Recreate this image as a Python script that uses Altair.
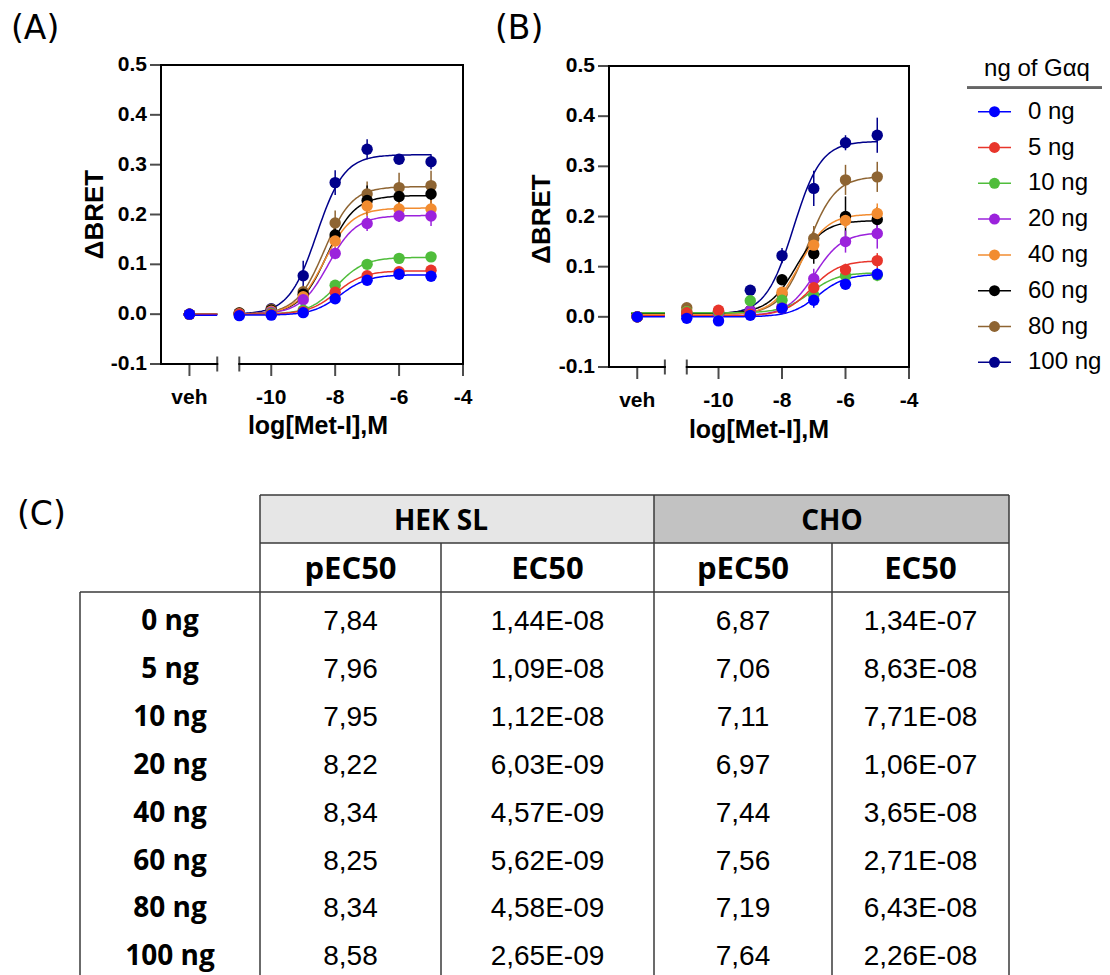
import altair as alt
import numpy as np
import pandas as pd

# ---------------------------------------------------------------- data
SERIES = ["0 ng", "5 ng", "10 ng", "20 ng", "40 ng", "60 ng", "80 ng", "100 ng"]
COLORS = ["#0000FF", "#E8352B", "#4FBD3B", "#9B22DC", "#F28C30", "#000000", "#8E6432", "#00008B"]
LOG_CONC = [-11, -10, -9, -8, -7, -6, -5]
X_TICK_LABELS = ["veh", "-10", "-8", "-6", "-4"]
X_TICK_VALUES = [-10, -8, -6, -4]
Y_TICKS = [-0.1, 0.0, 0.1, 0.2, 0.3, 0.4, 0.5]

# panel A (HEK SL): mean dBRET per log[Met-I]
HEK_MEAN = [
    [-0.003, -0.002, 0.003, 0.031, 0.068, 0.080, 0.076],
    [0.000, 0.000, 0.005, 0.044, 0.077, 0.085, 0.088],
    [0.000, 0.002, 0.008, 0.058, 0.100, 0.112, 0.115],
    [0.000, 0.004, 0.029, 0.122, 0.182, 0.197, 0.197],
    [0.001, 0.006, 0.035, 0.147, 0.217, 0.211, 0.211],
    [0.002, 0.008, 0.040, 0.159, 0.228, 0.236, 0.241],
    [0.003, 0.010, 0.045, 0.183, 0.241, 0.254, 0.258],
    [0.002, 0.011, 0.077, 0.264, 0.331, 0.311, 0.306],
]
HEK_ERR = [
    [0.002, 0.002, 0.003, 0.006, 0.006, 0.006, 0.008],
    [0.002, 0.002, 0.003, 0.006, 0.006, 0.006, 0.008],
    [0.002, 0.002, 0.004, 0.006, 0.008, 0.008, 0.008],
    [0.002, 0.003, 0.006, 0.012, 0.015, 0.012, 0.020],
    [0.002, 0.003, 0.008, 0.015, 0.020, 0.015, 0.018],
    [0.002, 0.004, 0.010, 0.020, 0.030, 0.020, 0.020],
    [0.003, 0.004, 0.012, 0.025, 0.025, 0.030, 0.030],
    [0.003, 0.005, 0.030, 0.025, 0.020, 0.008, 0.015],
]
HEK_VEH = [0.0, 0.0, 0.0, 0.0, 0.0, 0.0, 0.0, 0.0]
HEK_BOTTOM = [-0.002, 0.0, 0.0, 0.0, 0.0, 0.0, 0.0, 0.0]
HEK_TOP = [0.079, 0.087, 0.114, 0.198, 0.213, 0.238, 0.256, 0.320]

# panel B (CHO)
CHO_MEAN = [
    [-0.003, -0.008, 0.003, 0.017, 0.033, 0.065, 0.085],
    [0.008, 0.013, 0.005, 0.017, 0.058, 0.094, 0.112],
    [0.010, 0.010, 0.032, 0.033, 0.043, 0.082, 0.083],
    [0.005, 0.005, 0.012, 0.020, 0.076, 0.150, 0.166],
    [0.010, 0.008, 0.010, 0.049, 0.143, 0.192, 0.206],
    [0.005, 0.006, 0.012, 0.074, 0.126, 0.200, 0.194],
    [0.018, 0.010, 0.012, 0.045, 0.156, 0.273, 0.279],
    [0.005, 0.010, 0.053, 0.122, 0.256, 0.347, 0.362],
]
CHO_ERR = [
    [0.003, 0.003, 0.004, 0.008, 0.015, 0.010, 0.012],
    [0.003, 0.003, 0.004, 0.006, 0.012, 0.012, 0.015],
    [0.003, 0.003, 0.005, 0.008, 0.008, 0.010, 0.012],
    [0.003, 0.003, 0.004, 0.006, 0.020, 0.022, 0.030],
    [0.003, 0.003, 0.004, 0.010, 0.020, 0.015, 0.020],
    [0.003, 0.003, 0.004, 0.010, 0.020, 0.040, 0.025],
    [0.003, 0.003, 0.004, 0.010, 0.025, 0.030, 0.030],
    [0.003, 0.004, 0.006, 0.015, 0.035, 0.015, 0.035],
]
CHO_VEH = [0.0, 0.0, 0.0, 0.0, 0.0, 0.0, 0.0, 0.0]
CHO_BOTTOM = [0.0, 0.002, 0.008, 0.002, 0.004, 0.007, 0.005, 0.005]
CHO_TOP = [0.085, 0.112, 0.088, 0.168, 0.205, 0.192, 0.280, 0.350]

# table (C)
HEK_PEC50 = ["7,84", "7,96", "7,95", "8,22", "8,34", "8,25", "8,34", "8,58"]
HEK_EC50 = ["1,44E-08", "1,09E-08", "1,12E-08", "6,03E-09", "4,57E-09", "5,62E-09", "4,58E-09", "2,65E-09"]
CHO_PEC50 = ["6,87", "7,06", "7,11", "6,97", "7,44", "7,56", "7,19", "7,64"]
CHO_EC50 = ["1,34E-07", "8,63E-08", "7,71E-08", "1,06E-07", "3,65E-08", "2,71E-08", "6,43E-08", "2,26E-08"]
GROUPS = ["HEK SL", "CHO"]
SUBCOLS = ["pEC50", "EC50", "pEC50", "EC50"]
LEGEND_TITLE = "ng of Gαq"
HILL = 1.0

# ---------------------------------------------------------------- layout
W, H = 1094, 967
X_DOM = [-13.45, -4.0]
Y_DOM = [-0.1, 0.5]
VEH_X = -12.56
BREAK_L, BREAK_R = -11.69, -11.0
VEH_LINE = [-12.75, -11.69]
PANELS = {"A": {"xr": [153, 455], "yr": [356, 57]},
          "B": {"xr": [601, 901], "yr": [359, 58]}}
AX_FONT = "Liberation Sans"


def xsc(p):
    return alt.Scale(domain=X_DOM, range=PANELS[p]["xr"], nice=False, zero=False)


def ysc(p):
    return alt.Scale(domain=Y_DOM, range=PANELS[p]["yr"], nice=False, zero=False)


def XQ(field, p):
    return alt.X(field, type="quantitative", scale=xsc(p), axis=None)


def YQ(field, p):
    return alt.Y(field, type="quantitative", scale=ysc(p), axis=None)


CSCALE = alt.Scale(domain=SERIES, range=COLORS)
COLOR = alt.Color("series:N", scale=CSCALE, legend=None)


def to_num(s):
    return float(s.replace(",", "."))


def panel_layers(p, mean, err, veh, bottom, top, pec50):
    layers = []
    # frame and broken x axis
    frame = pd.DataFrame({
        "x": [X_DOM[0], X_DOM[0], X_DOM[1], X_DOM[0], BREAK_R],
        "x2": [X_DOM[0], X_DOM[1], X_DOM[1], BREAK_L, X_DOM[1]],
        "y": [Y_DOM[0], Y_DOM[1], Y_DOM[0], Y_DOM[0], Y_DOM[0]],
        "y2": [Y_DOM[1], Y_DOM[1], Y_DOM[1], Y_DOM[0], Y_DOM[0]],
    })
    layers.append(alt.Chart(frame).mark_rule(color="black", strokeWidth=2, strokeCap="square").encode(
        x=XQ("x", p), x2=alt.X2("x2"), y=YQ("y", p), y2=alt.Y2("y2")))
    xt = pd.DataFrame({"x": [VEH_X] + X_TICK_VALUES, "label": X_TICK_LABELS, "y": Y_DOM[0]})
    layers.append(alt.Chart(xt).mark_tick(orient="vertical", size=12, thickness=2, color="black", yOffset=6).encode(
        x=XQ("x", p), y=YQ("y", p)))
    layers.append(alt.Chart(xt).mark_text(font=AX_FONT, fontWeight="bold", fontSize=21, align="center",
                                          baseline="alphabetic", dy=40, color="black").encode(
        x=XQ("x", p), y=YQ("y", p), text="label:N"))
    br = pd.DataFrame({"x": [BREAK_L, BREAK_R], "y": Y_DOM[0]})
    layers.append(alt.Chart(br).mark_tick(orient="vertical", size=15, thickness=2, color="black").encode(
        x=XQ("x", p), y=YQ("y", p)))
    yt = pd.DataFrame({"y": Y_TICKS, "x": X_DOM[0], "label": [f"{v:.1f}" for v in Y_TICKS]})
    layers.append(alt.Chart(yt).mark_tick(orient="horizontal", size=11, thickness=2, color="black", xOffset=-5.5).encode(
        x=XQ("x", p), y=YQ("y", p)))
    layers.append(alt.Chart(yt).mark_text(font=AX_FONT, fontWeight="bold", fontSize=21, align="right",
                                          baseline="middle", dx=-14, color="black").encode(
        x=XQ("x", p), y=YQ("y", p), text="label:N"))

    order = list(reversed(range(len(SERIES))))  # 100 ng drawn first, 0 ng on top
    # fitted 4-parameter logistic curves (plateaus, pEC50 from table)
    xs = np.linspace(LOG_CONC[0], LOG_CONC[-1], 121)
    cur = []
    for k in order:
        yy = bottom[k] + (top[k] - bottom[k]) / (1 + 10 ** ((-pec50[k] - xs) * HILL))
        cur += [{"series": SERIES[k], "x": a, "y": b} for a, b in zip(xs, yy)]
    layers.append(alt.Chart(pd.DataFrame(cur)).mark_line(strokeWidth=1.5).encode(
        x=XQ("x", p), y=YQ("y", p), color=COLOR, detail="series:N"))
    vl = pd.DataFrame({"series": [SERIES[k] for k in order], "x": VEH_LINE[0], "x2": VEH_LINE[1],
                       "y": [bottom[k] for k in order]})
    layers.append(alt.Chart(vl).mark_rule(strokeWidth=1.5).encode(
        x=XQ("x", p), x2=alt.X2("x2"), y=YQ("y", p), color=COLOR))
    pts = []
    for k in order:
        pts.append({"series": SERIES[k], "x": VEH_X, "y": veh[k], "lo": veh[k], "hi": veh[k]})
        for c, m, e in zip(LOG_CONC, mean[k], err[k]):
            pts.append({"series": SERIES[k], "x": c, "y": m, "lo": m - e, "hi": m + e})
    pdf = pd.DataFrame(pts)
    layers.append(alt.Chart(pdf).mark_rule(strokeWidth=1.5).encode(
        x=XQ("x", p), y=YQ("lo", p), y2=alt.Y2("hi"), color=COLOR))
    layers.append(alt.Chart(pdf).mark_circle(size=130, opacity=1).encode(
        x=XQ("x", p), y=YQ("y", p), color=COLOR))
    return layers


def label(text, x, y, size, font, weight="normal", align="left", baseline="alphabetic", angle=0):
    return alt.Chart(pd.DataFrame({"t": [text]})).mark_text(
        font=font, fontSize=size, fontWeight=weight, align=align, baseline=baseline,
        angle=angle, color="black").encode(x=alt.value(x), y=alt.value(y), text="t:N")


layers = []
layers += panel_layers("A", HEK_MEAN, HEK_ERR, HEK_VEH, HEK_BOTTOM, HEK_TOP, [to_num(v) for v in HEK_PEC50])
layers += panel_layers("B", CHO_MEAN, CHO_ERR, CHO_VEH, CHO_BOTTOM, CHO_TOP, [to_num(v) for v in CHO_PEC50])

# panel letters and axis titles
layers.append(label("(A)", 3, 31, 33, "DejaVu Sans"))
layers.append(label("(B)", 487, 31, 33, "DejaVu Sans"))
layers.append(label("(C)", 9, 517, 33, "DejaVu Sans"))
layers.append(label("ΔBRET", 87, 206.5, 26, AX_FONT, "bold", "center", "middle", 270))
layers.append(label("ΔBRET", 533.7, 211, 26, AX_FONT, "bold", "center", "middle", 270))
layers.append(label("log[Met-I],M", 310, 426, 25, AX_FONT, "bold", "center"))
layers.append(label("log[Met-I],M", 751, 430, 25, AX_FONT, "bold", "center"))

# legend
leg = pd.DataFrame({"series": SERIES})
LY = alt.Y("series:N", scale=alt.Scale(type="point", domain=SERIES, range=[103.7, 354.3], padding=0), axis=None)
layers.append(label(LEGEND_TITLE, 1029, 68, 24, "Liberation Sans", align="center"))
layers.append(alt.Chart(leg).mark_rule(color="#666666", strokeWidth=2).encode(
    x=alt.value(959), x2=alt.value(1094), y=alt.value(79.7)))
layers.append(alt.Chart(leg).mark_rule(strokeWidth=1.5).encode(
    x=alt.value(970), x2=alt.value(1003), y=LY, color=COLOR))
layers.append(alt.Chart(leg).mark_circle(size=120, opacity=1).encode(
    x=alt.value(986.5), y=LY, color=COLOR))
layers.append(alt.Chart(leg).mark_text(font="Liberation Sans", fontSize=24, align="left",
                                       baseline="middle", color="black").encode(
    x=alt.value(1020), y=LY, text="series:N"))

# table
COL_EDGES = [72, 252, 433, 646, 824, 1001]
T_TOP, T_MID, T_BOT = 487, 535, 584
ROW0, ROW_STEP = 614, 47.9
PXS = alt.Scale(domain=[0, W], range=[0, W], nice=False, zero=False)
PYS = alt.Scale(domain=[0, H], range=[0, H], nice=False, zero=False)


def TX(f):
    return alt.X(f, type="quantitative", scale=PXS, axis=None)


def TY(f):
    return alt.Y(f, type="quantitative", scale=PYS, axis=None)


for (x0, x1, fill) in [(COL_EDGES[1], COL_EDGES[3], "#E6E6E6"), (COL_EDGES[3], COL_EDGES[5], "#C2C2C2")]:
    layers.append(alt.Chart(pd.DataFrame({"x": [x0], "x2": [x1], "y": [T_TOP], "y2": [T_MID]})).mark_rect(
        color=fill).encode(x=TX("x"), x2=alt.X2("x2"), y=TY("y"), y2=alt.Y2("y2")))

segs = [
    (COL_EDGES[1], T_TOP, COL_EDGES[5], T_TOP),
    (COL_EDGES[1], T_MID, COL_EDGES[5], T_MID),
    (COL_EDGES[0], T_BOT, COL_EDGES[5], T_BOT),
    (COL_EDGES[0], T_BOT, COL_EDGES[0], H),
    (COL_EDGES[1], T_TOP, COL_EDGES[1], H),
    (COL_EDGES[2], T_MID, COL_EDGES[2], H),
    (COL_EDGES[3], T_TOP, COL_EDGES[3], H),
    (COL_EDGES[4], T_MID, COL_EDGES[4], H),
    (COL_EDGES[5], T_TOP, COL_EDGES[5], H),
]
sdf = pd.DataFrame(segs, columns=["x", "y", "x2", "y2"])
layers.append(alt.Chart(sdf).mark_rule(color="#3A3A3A", strokeWidth=1.5).encode(
    x=TX("x"), x2=alt.X2("x2"), y=TY("y"), y2=alt.Y2("y2")))

centers = [(COL_EDGES[i] + COL_EDGES[i + 1]) / 2 for i in range(5)]
h1 = pd.DataFrame({"t": GROUPS, "x": [COL_EDGES[2], COL_EDGES[4]], "y": (T_TOP + T_MID) / 2 + 3})
layers.append(alt.Chart(h1).mark_text(font="Open Sans", fontWeight="bold", fontSize=28, baseline="middle",
                                      align="center", color="black").encode(x=TX("x"), y=TY("y"), text="t:N"))
h2 = pd.DataFrame({"t": SUBCOLS, "x": centers[1:], "y": (T_MID + T_BOT) / 2 + 2})
layers.append(alt.Chart(h2).mark_text(font="Open Sans", fontWeight="bold", fontSize=31, baseline="middle",
                                      align="center", color="black").encode(x=TX("x"), y=TY("y"), text="t:N"))
rows_y = [ROW0 + ROW_STEP * i for i in range(len(SERIES))]
rl = pd.DataFrame({"t": SERIES, "x": centers[0], "y": rows_y})
layers.append(alt.Chart(rl).mark_text(font="Open Sans", fontWeight="bold", fontSize=28, baseline="middle",
                                      align="center", color="black").encode(x=TX("x"), y=TY("y"), text="t:N"))
vals = []
for col, arr in zip(centers[1:], [HEK_PEC50, HEK_EC50, CHO_PEC50, CHO_EC50]):
    vals += [{"t": v, "x": col, "y": y} for v, y in zip(arr, rows_y)]
layers.append(alt.Chart(pd.DataFrame(vals)).mark_text(font="Liberation Sans", fontSize=28, baseline="middle",
                                                      align="center", color="black").encode(
    x=TX("x"), y=TY("y"), text="t:N"))

chart = alt.layer(*layers).resolve_scale(
    x="independent", y="independent", color="independent"
).properties(
    width=W, height=H, padding=0, autosize=alt.AutoSizeParams(type="none"),
    background="white"
).configure_view(stroke=None)

chart.save("out.html", embed_options={"renderer": "svg", "actions": False})
